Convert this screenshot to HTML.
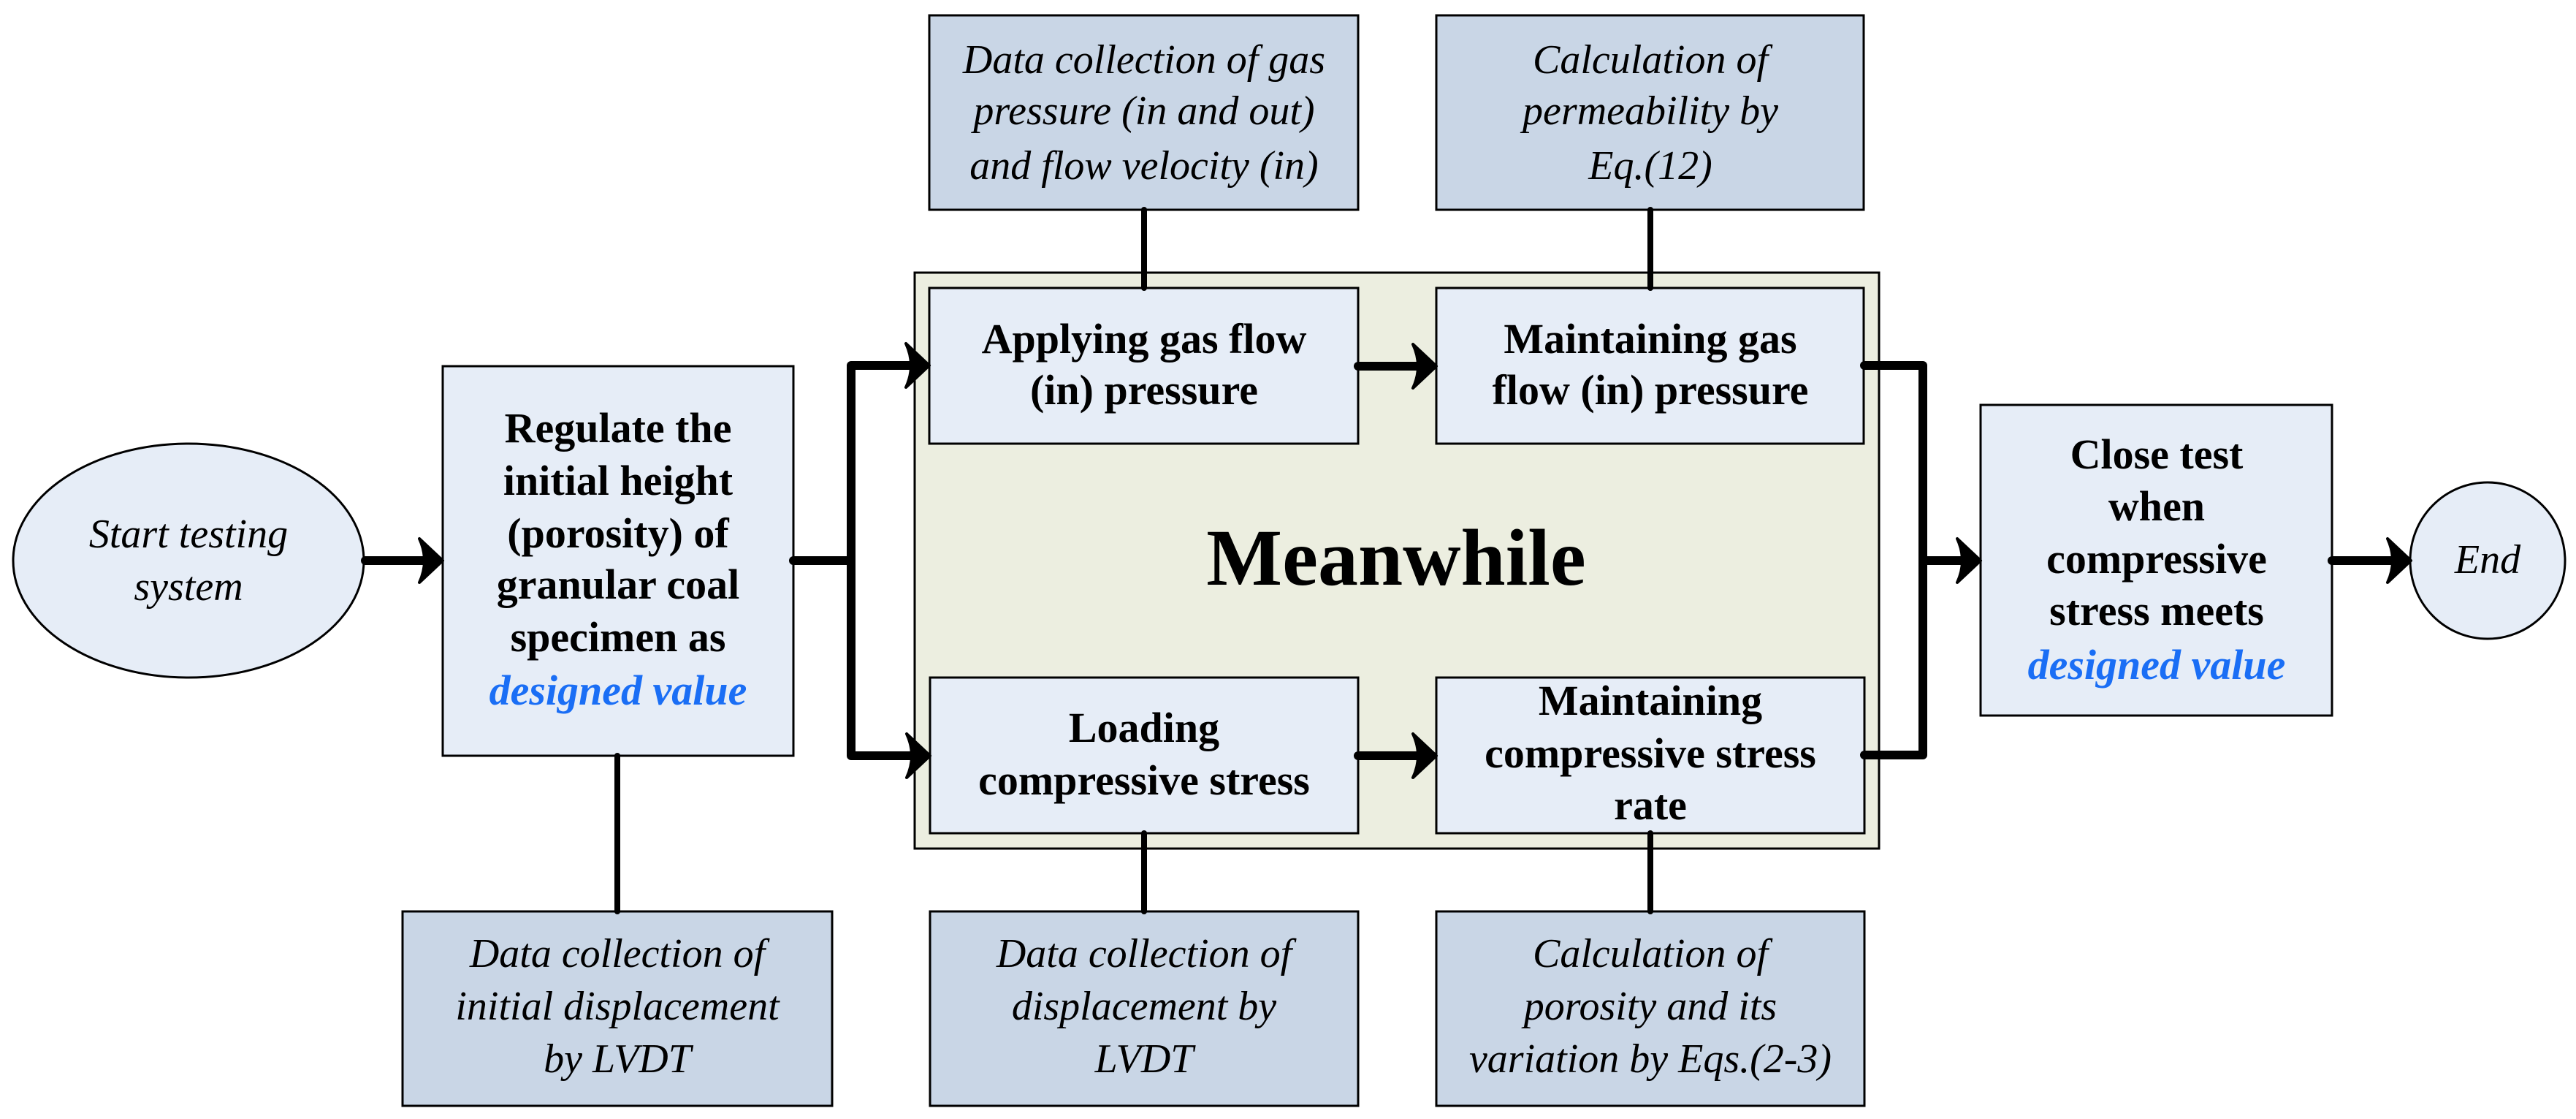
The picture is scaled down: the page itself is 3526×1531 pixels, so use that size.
<!DOCTYPE html>
<html><head><meta charset="utf-8"><style>
html,body{margin:0;padding:0;background:#fff;}
svg{display:block;}
.b{font-family:"Liberation Serif",serif;font-weight:bold;font-size:58px;fill:#000;}
.i{font-family:"Liberation Serif",serif;font-style:italic;font-size:56px;fill:#000;}
.blue{fill:#1a6ef5;font-style:italic;font-weight:bold;}
</style></head><body>
<svg width="3526" height="1531" viewBox="0 0 3526 1531" xmlns="http://www.w3.org/2000/svg">
<defs>
<path id="ah" d="M0,0 L-32,-30 Q-18,0 -32,30 Z" fill="#000" stroke="#000" stroke-width="4" stroke-linejoin="round"/>
</defs>
<!-- meanwhile container -->
<rect x="1252" y="373" width="1320" height="788" fill="#eceee0" stroke="#000" stroke-width="3"/>
<!-- top data boxes -->
<rect x="1272" y="21" width="587" height="266" fill="#c9d6e6" stroke="#000" stroke-width="3"/>
<rect x="1966" y="21" width="585" height="266" fill="#c9d6e6" stroke="#000" stroke-width="3"/>
<!-- bottom data boxes -->
<rect x="551" y="1247" width="588" height="266" fill="#c9d6e6" stroke="#000" stroke-width="3"/>
<rect x="1273" y="1247" width="586" height="266" fill="#c9d6e6" stroke="#000" stroke-width="3"/>
<rect x="1966" y="1247" width="586" height="266" fill="#c9d6e6" stroke="#000" stroke-width="3"/>
<!-- inner boxes -->
<rect x="1272" y="394" width="587" height="213" fill="#e6edf7" stroke="#000" stroke-width="3"/>
<rect x="1966" y="394" width="585" height="213" fill="#e6edf7" stroke="#000" stroke-width="3"/>
<rect x="1273" y="927" width="586" height="213" fill="#e6edf7" stroke="#000" stroke-width="3"/>
<rect x="1966" y="927" width="586" height="213" fill="#e6edf7" stroke="#000" stroke-width="3"/>
<!-- regulate, close -->
<rect x="606" y="501" width="480" height="533" fill="#e6edf7" stroke="#000" stroke-width="3"/>
<rect x="2711" y="554" width="481" height="425" fill="#e6edf7" stroke="#000" stroke-width="3"/>
<!-- ellipses -->
<ellipse cx="258" cy="767" rx="240" ry="160" fill="#e6edf7" stroke="#000" stroke-width="3"/>
<ellipse cx="3405" cy="767" rx="106" ry="107" fill="#e6edf7" stroke="#000" stroke-width="3"/>

<!-- connectors -->
<g stroke="#000" stroke-width="8" stroke-linecap="round">
<line x1="1566" y1="287" x2="1566" y2="394"/>
<line x1="2259" y1="287" x2="2259" y2="394"/>
<line x1="845" y1="1034" x2="845" y2="1247"/>
<line x1="1566" y1="1140" x2="1566" y2="1247"/>
<line x1="2259" y1="1140" x2="2259" y2="1247"/>
</g>
<g stroke="#000" stroke-width="12" fill="none" stroke-linecap="round" stroke-linejoin="round">
<line x1="500" y1="767" x2="596" y2="767"/>
<polyline points="1086,767 1165,767"/>
<polyline points="1260,500 1165,500 1165,1034 1260,1034"/>
<line x1="1859" y1="501" x2="1956" y2="501"/>
<line x1="1859" y1="1034" x2="1956" y2="1034"/>
<polyline points="2552,500 2632,500 2632,1033 2552,1033"/>
<line x1="2632" y1="767" x2="2700" y2="767"/>
<line x1="3192" y1="767" x2="3290" y2="767"/>
</g>
<use href="#ah" x="606" y="767"/>
<use href="#ah" x="1272" y="500"/>
<use href="#ah" x="1273" y="1034"/>
<use href="#ah" x="1966" y="501"/>
<use href="#ah" x="1966" y="1034"/>
<use href="#ah" x="2711" y="767"/>
<use href="#ah" x="3300" y="767"/>

<!-- text -->
<g text-anchor="middle">
<text class="i" x="258" y="749">Start testing</text>
<text class="i" x="258" y="821">system</text>

<text class="b" x="846" y="605">Regulate the</text>
<text class="b" x="846" y="677">initial height</text>
<text class="b" x="846" y="749">(porosity) of</text>
<text class="b" x="846" y="819">granular coal</text>
<text class="b" x="846" y="891">specimen as</text>
<text class="b blue" x="846" y="964">designed value</text>

<text class="i" x="1566" y="100">Data collection of gas</text>
<text class="i" x="1566" y="170">pressure (in and out)</text>
<text class="i" x="1566" y="245">and flow velocity (in)</text>
<text class="i" x="2259" y="100">Calculation of</text>
<text class="i" x="2259" y="170">permeability by</text>
<text class="i" x="2259" y="245">Eq.(12)</text>

<text class="b" x="1566" y="483">Applying gas flow</text>
<text class="b" x="1566" y="553">(in) pressure</text>
<text class="b" x="2259" y="483">Maintaining gas</text>
<text class="b" x="2259" y="553">flow (in) pressure</text>

<text x="1911" y="800" style="font-family:'Liberation Serif',serif;font-weight:bold;font-size:110px;">Meanwhile</text>

<text class="b" x="1566" y="1015">Loading</text>
<text class="b" x="1566" y="1087">compressive stress</text>
<text class="b" x="2259" y="978">Maintaining</text>
<text class="b" x="2259" y="1050">compressive stress</text>
<text class="b" x="2259" y="1121">rate</text>

<text class="i" x="845" y="1323">Data collection of</text>
<text class="i" x="845" y="1395">initial displacement</text>
<text class="i" x="845" y="1467">by LVDT</text>
<text class="i" x="1566" y="1323">Data collection of</text>
<text class="i" x="1566" y="1395">displacement by</text>
<text class="i" x="1566" y="1467">LVDT</text>
<text class="i" x="2259" y="1323">Calculation of</text>
<text class="i" x="2259" y="1395">porosity and its</text>
<text class="i" x="2259" y="1467">variation by Eqs.(2-3)</text>

<text class="b" x="2952" y="641">Close test</text>
<text class="b" x="2952" y="712">when</text>
<text class="b" x="2952" y="784">compressive</text>
<text class="b" x="2952" y="855">stress meets</text>
<text class="b blue" x="2952" y="929">designed value</text>

<text class="i" x="3405" y="784">End</text>
</g>
</svg>
</body></html>
